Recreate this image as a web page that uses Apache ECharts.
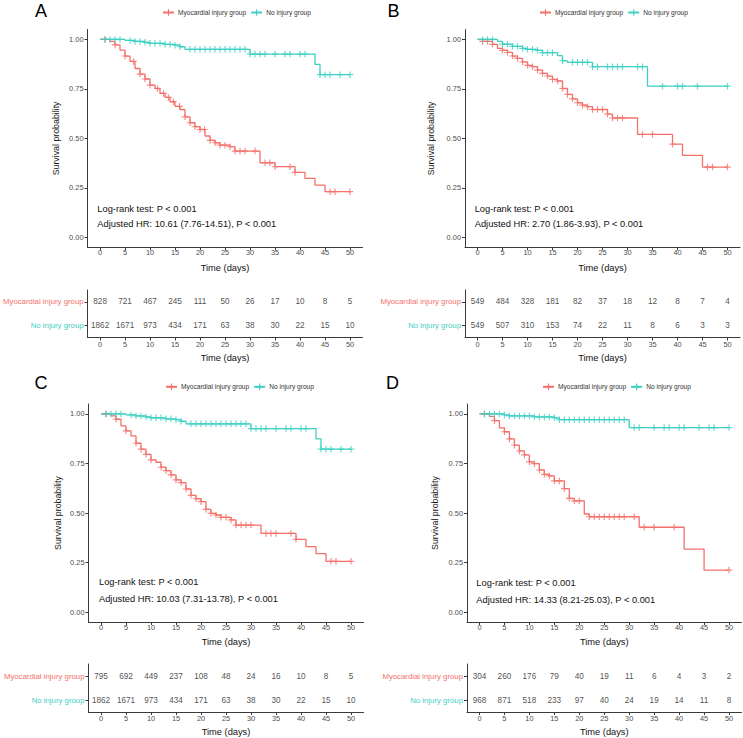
<!DOCTYPE html>
<html><head><meta charset="utf-8">
<script src="https://cdn.jsdelivr.net/npm/echarts@6/dist/echarts.min.js"></script>
<style>html,body{margin:0;padding:0;background:#fff}#c{width:743px;height:738px}</style>
</head><body><div id="c"></div>
<script>
// ---------- data ----------
const groups = ['Myocardial injury group', 'No injury group'];
const xTicks = [0, 5, 10, 15, 20, 25, 30, 35, 40, 45, 50];
const yTicks = [0, 0.25, 0.5, 0.75, 1];

// Panel A
const A_inj_t = [0,2,3,4,5,6,7,8,9,10,11,12,13,14,15,16,17,18,19,20,21,22,23,24,26,27,32,35,39,41,43,45,50];
const A_inj_s = [1,0.99,0.972,0.946,0.916,0.889,0.853,0.825,0.80,0.769,0.752,0.727,0.707,0.685,0.662,0.646,0.609,0.579,0.559,0.545,0.512,0.49,0.478,0.466,0.458,0.436,0.377,0.357,0.328,0.298,0.264,0.231,0.231];
const A_inj_cens = [1,3,5,6.7,8,9,10,11.5,12.7,13.7,14.7,15.9,17,18,19,20,20.9,22,23,24,25,26,27,28,29,31,33,34,35,38,39,46,47,50];
const A_no_t = [0,5,7,9,10,13,15,16,17,30,43,44,50];
const A_no_s = [1,0.995,0.99,0.985,0.98,0.975,0.971,0.963,0.95,0.926,0.874,0.822,0.822];
const A_no_cens = [1,2,3,4,6,7,8,9,10,11,12,13,14,15,16,18,19,20,21,22,23,24,25,26,27,28,29,30,31,32,33,35,37,38,40,41,44,45,46,48,50];
const A_risk_inj = [828,721,467,245,111,50,26,17,10,8,5];
const A_risk_no = [1862,1671,973,434,171,63,38,30,22,15,10];
const A_text = ['Log-rank test: P < 0.001', 'Adjusted HR: 10.61 (7.76-14.51), P < 0.001'];

// Panel B
const B_inj_t = [0,1,3,4,5,6,7,8,9,10,11,12,13,14,15,16,17,18,19,20,21,22,23,26,27,32,39,41,45,50];
const B_inj_s = [1,0.99,0.975,0.955,0.945,0.934,0.916,0.904,0.886,0.869,0.862,0.845,0.828,0.815,0.798,0.79,0.752,0.722,0.70,0.68,0.668,0.66,0.646,0.623,0.603,0.52,0.471,0.414,0.355,0.355];
const B_inj_cens = [1,2,3,5,6,7,8,9,10,11,12,13,14,15,16,17,18,19,20,21,22,23,24,25,26,27,28,29,33,35,39,46,47,50];
const B_no_t = [0,4,5,7,9,10,12,13,16,17,18,23,34,50];
const B_no_s = [1,0.99,0.976,0.965,0.955,0.95,0.945,0.933,0.918,0.892,0.884,0.862,0.764,0.764];
const B_no_cens = [1,2,3,5,6,7,8,9,10,11,12,13,14,15,17,19,20,21,22,23,24,26,27,28,29,32,33,37,40,41,44,50];
const B_risk_inj = [549,484,328,181,82,37,18,12,8,7,4];
const B_risk_no = [549,507,310,153,74,22,11,8,6,3,3];
const B_text = ['Log-rank test: P < 0.001', 'Adjusted HR: 2.70 (1.86-3.93), P < 0.001'];

// Panel C
const C_inj_t = [0,2,3,4,5,6,7,8,9,10,11,12,13,14,15,16,17,18,19,20,21,22,23,24,26,27,32,39,41,43,45,50];
const C_inj_s = [1,0.99,0.973,0.94,0.914,0.889,0.852,0.822,0.796,0.768,0.756,0.731,0.714,0.692,0.667,0.653,0.621,0.589,0.572,0.557,0.518,0.498,0.49,0.478,0.465,0.439,0.397,0.367,0.33,0.295,0.256,0.256];
const C_inj_cens = [1,3,5,7,8,9,10,12,13,14,15,16,17,18,19,20,21,22,23,24,25,26,27,28,29,30,33,34,35,38,39,46,47,50];
const C_no_t = [0,5,7,9,10,13,15,16,17,30,43,44,50];
const C_no_s = [1,0.995,0.99,0.985,0.98,0.975,0.971,0.963,0.95,0.926,0.874,0.822,0.822];
const C_no_cens = [1,2,3,4,6,7,8,9,10,11,12,13,14,15,16,18,19,20,21,22,23,24,25,26,27,28,29,30,31,32,33,35,37,38,40,41,44,45,46,48,50];
const C_risk_inj = [795,692,449,237,108,48,24,16,10,8,5];
const C_risk_no = [1862,1671,973,434,171,63,38,30,22,15,10];
const C_text = ['Log-rank test: P < 0.001', 'Adjusted HR: 10.03 (7.31-13.78), P < 0.001'];

// Panel D
const D_inj_t = [0,2,3,4,5,6,7,8,9,10,11,12,13,14,15,17,18,19,21,22,32,41,45,50];
const D_inj_s = [1,0.988,0.966,0.93,0.91,0.874,0.842,0.813,0.793,0.758,0.749,0.717,0.695,0.687,0.662,0.623,0.574,0.561,0.495,0.481,0.428,0.318,0.212,0.212];
const D_inj_cens = [1,3,5,6,7,8,9,10,11,12,13,14,15,16,17,18,19,20,22,23,24,25,26,27,28,29,31,33,35,39,50];
const D_no_t = [0,5,6,11,15,16,30,50];
const D_no_s = [1,0.995,0.99,0.985,0.98,0.971,0.931,0.931];
const D_no_cens = [1,2,3,4,5,6,7,8,9,10,11,12,13,14,15,16,17,18,19,20,21,22,23,24,25,26,27,28,29,31,32,35,37,38,40,41,44,46,47,50];
const D_risk_inj = [304,260,176,79,40,19,11,6,4,3,2];
const D_risk_no = [968,871,518,233,97,40,24,19,14,11,8];
const D_text = ['Log-rank test: P < 0.001', 'Adjusted HR: 14.33 (8.21-25.03), P < 0.001'];

// ---------- styling / layout ----------
const FONT = '"Liberation Sans", Arial, Helvetica, sans-serif';
const RED = '#F4716B';
const TEAL = '#3FCFC3';
const AXIS = '#3a3a3a';
const PLUS = 'path://M4.1,0H5.9V4.1H10V5.9H5.9V10H4.1V5.9H0V4.1H4.1Z';

const panels = [
  {id:'A', inj:[A_inj_t,A_inj_s,A_inj_cens], no:[A_no_t,A_no_s,A_no_cens], risk:[A_risk_inj,A_risk_no], text:A_text,
   km:[87.5,29.5,275,217.8], tb:[87.5,290,275,47.5], yGap:27, xGap:16, tGap:16, legend:[162,9], letter:[35,11], ann:[97.3,209.3,224.3]},
  {id:'B', inj:[B_inj_t,B_inj_s,B_inj_cens], no:[B_no_t,B_no_s,B_no_cens], risk:[B_risk_inj,B_risk_no], text:B_text,
   km:[465,29.5,275,217.8], tb:[465,290,275,47.5], yGap:30, xGap:16, tGap:16, legend:[539,9], letter:[387.5,11], ann:[474.7,209.3,223.7]},
  {id:'C', inj:[C_inj_t,C_inj_s,C_inj_cens], no:[C_no_t,C_no_s,C_no_cens], risk:[C_risk_inj,C_risk_no], text:C_text,
   km:[88.5,404,275,218], tb:[88.5,664,275,48], yGap:26.5, xGap:15, tGap:15, legend:[165,383.3], letter:[34.5,382.5], ann:[99,582.3,599.3]},
  {id:'D', inj:[D_inj_t,D_inj_s,D_inj_cens], no:[D_no_t,D_no_s,D_no_cens], risk:[D_risk_inj,D_risk_no], text:D_text,
   km:[467,404,274.5,218], tb:[467,664,274.5,48], yGap:28, xGap:15, tGap:15, legend:[542,383.3], letter:[386,382.5], ann:[476.3,583.3,600]}
];

function survAt(t, times, surv) {
  let v = surv[0];
  for (let i = 0; i < times.length; i++) if (times[i] <= t) v = surv[i];
  return v;
}

const grid = [], xAxis = [], yAxis = [], series = [], legend = [], graphic = [];
const axisLineStyle = {show: true, onZero: false, lineStyle: {color: AXIS, width: 1}};
const tickStyle = {show: true, length: 3, lineStyle: {color: AXIS, width: 1}};

panels.forEach((p, k) => {
  const gi = k * 2, ti = k * 2 + 1;
  grid.push({left: p.km[0], top: p.km[1], width: p.km[2], height: p.km[3]});
  grid.push({left: p.tb[0], top: p.tb[1], width: p.tb[2], height: p.tb[3]});
  // KM axes
  xAxis.push({gridIndex: gi, type: 'value', min: -2.5, max: 52.5,
    name: 'Time (days)', nameLocation: 'middle', nameGap: p.xGap,
    nameTextStyle: {fontFamily: FONT, fontSize: 9.3, color: '#111'},
    axisLine: axisLineStyle, axisTick: Object.assign({customValues: xTicks}, tickStyle),
    axisLabel: {customValues: xTicks, fontFamily: FONT, fontSize: 7.4, color: '#4d4d4d', margin: 2},
    splitLine: {show: false}});
  yAxis.push({gridIndex: gi, type: 'value', min: -0.05, max: 1.05,
    name: 'Survival probability', nameLocation: 'middle', nameGap: p.yGap, nameRotate: 90,
    nameTextStyle: {fontFamily: FONT, fontSize: 8.8, color: '#111'},
    axisLine: axisLineStyle, axisTick: Object.assign({customValues: yTicks}, tickStyle),
    axisLabel: {customValues: yTicks, formatter: v => v.toFixed(2), fontFamily: FONT, fontSize: 7.4, color: '#4d4d4d', margin: 4},
    splitLine: {show: false}});
  // table axes
  xAxis.push({gridIndex: ti, type: 'value', min: -2.5, max: 52.5,
    name: 'Time (days)', nameLocation: 'middle', nameGap: p.tGap,
    nameTextStyle: {fontFamily: FONT, fontSize: 9.3, color: '#111'},
    axisLine: axisLineStyle, axisTick: Object.assign({customValues: xTicks}, tickStyle),
    axisLabel: {customValues: xTicks, fontFamily: FONT, fontSize: 7.4, color: '#4d4d4d', margin: 3},
    splitLine: {show: false}});
  yAxis.push({gridIndex: ti, type: 'category', data: [groups[1], groups[0]],
    axisLine: axisLineStyle,
    axisTick: Object.assign({alignWithLabel: true}, tickStyle),
    axisLabel: {margin: 4, fontFamily: FONT, fontSize: 7.8,
      formatter: v => v === groups[0] ? '{r|' + v + '}' : '{t|' + v + '}',
      rich: {r: {color: RED, fontFamily: FONT, fontSize: 7.8}, t: {color: TEAL, fontFamily: FONT, fontSize: 7.8}}},
    splitLine: {show: false}});

  const curves = [[p.inj, RED, groups[0]], [p.no, TEAL, groups[1]]];
  curves.forEach(([c, color, name], j) => {
    const [times, surv, cens] = c;
    series.push({type: 'line', name: name, xAxisIndex: gi, yAxisIndex: gi, step: 'end',
      data: times.map((t, i) => [t, surv[i]]), showSymbol: false, symbol: PLUS, symbolSize: 7,
      lineStyle: {color: color, width: 1.3}, itemStyle: {color: color}, silent: true, z: 2 + j});
    series.push({type: 'scatter', name: p.id + '-' + name + '-censor', xAxisIndex: gi, yAxisIndex: gi,
      data: cens.map(t => [t, survAt(t, times, surv)]), symbol: PLUS, symbolSize: 6.5,
      itemStyle: {color: color}, silent: true, z: 4 + j});
  });
  // risk table numbers
  [p.risk[0], p.risk[1]].forEach((vals, j) => {
    series.push({type: 'scatter', name: p.id + '-risk-' + j, xAxisIndex: ti, yAxisIndex: ti,
      data: vals.map((v, i) => [xTicks[i], j === 0 ? groups[0] : groups[1], v]),
      symbolSize: 1, itemStyle: {color: 'rgba(0,0,0,0)'}, silent: true,
      label: {show: true, position: 'inside', formatter: q => String(q.value[2]),
        fontFamily: FONT, fontSize: 8.2, color: '#222'}});
  });

  legend.push({left: p.legend[0], top: p.legend[1], data: groups, selectedMode: false,
    itemWidth: 11, itemHeight: 8, itemGap: 4, padding: 0,
    textStyle: {fontFamily: FONT, fontSize: 6.6, color: '#333', padding: [0, 0, 0, -1]}});

  graphic.push({type: 'text', left: p.letter[0], top: p.letter[1] - 9,
    style: {text: p.id, fontFamily: FONT, fontSize: 18, fill: '#000'}});
  graphic.push({type: 'text', x: p.ann[0], y: p.ann[1],
    style: {text: p.text[0], fontFamily: FONT, fontSize: 9.3, fill: '#111', verticalAlign: 'middle'}});
  graphic.push({type: 'text', x: p.ann[0], y: p.ann[2],
    style: {text: p.text[1], fontFamily: FONT, fontSize: 9.3, fill: '#111', verticalAlign: 'middle'}});
});

const chart = echarts.init(document.getElementById('c'), null, {renderer: 'svg'});
chart.setOption({animation: false, backgroundColor: '#fff', grid, xAxis, yAxis, series, legend, graphic});
</script></body></html>
